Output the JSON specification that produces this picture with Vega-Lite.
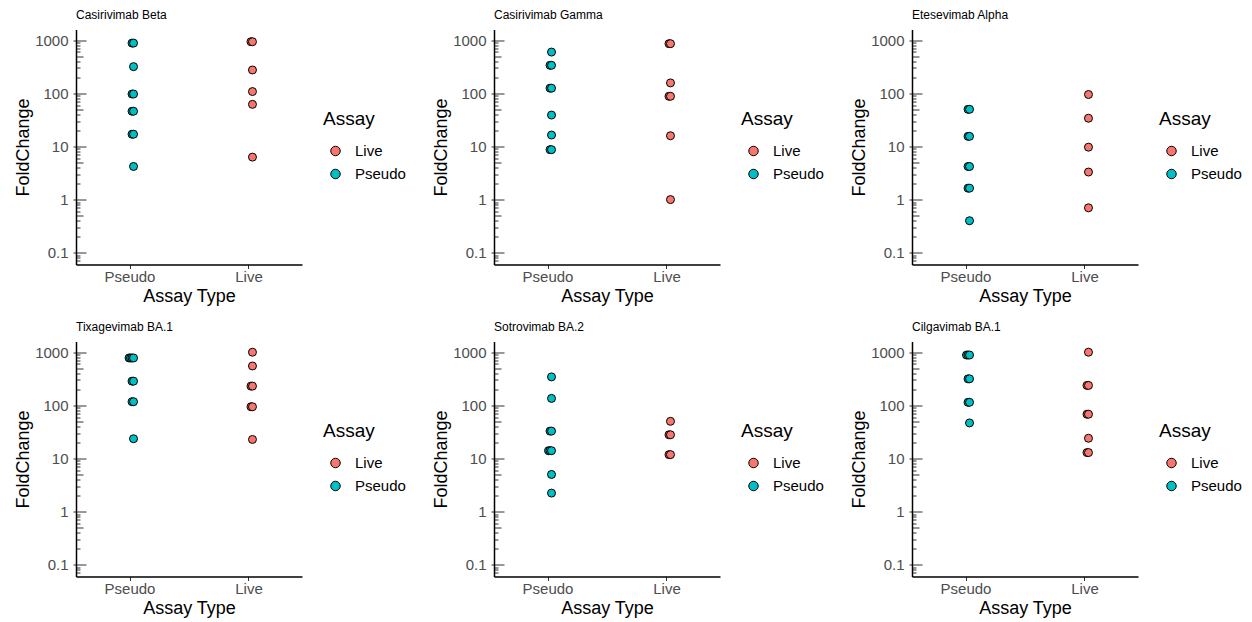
{
  "$schema": "https://vega.github.io/schema/vega-lite/v6.json",
  "background": "white",
  "padding": {"left": 14, "top": 8.5, "right": 5, "bottom": 5},
  "data": {"values": [
    {"panel": "Casirivimab Beta", "Assay": "Pseudo", "FoldChange": 882, "rep": 1},
    {"panel": "Casirivimab Beta", "Assay": "Pseudo", "FoldChange": 882, "rep": 0},
    {"panel": "Casirivimab Beta", "Assay": "Pseudo", "FoldChange": 318, "rep": 0},
    {"panel": "Casirivimab Beta", "Assay": "Pseudo", "FoldChange": 97, "rep": 1},
    {"panel": "Casirivimab Beta", "Assay": "Pseudo", "FoldChange": 97, "rep": 0},
    {"panel": "Casirivimab Beta", "Assay": "Pseudo", "FoldChange": 46, "rep": 1},
    {"panel": "Casirivimab Beta", "Assay": "Pseudo", "FoldChange": 46, "rep": 0},
    {"panel": "Casirivimab Beta", "Assay": "Pseudo", "FoldChange": 17, "rep": 1},
    {"panel": "Casirivimab Beta", "Assay": "Pseudo", "FoldChange": 17, "rep": 0},
    {"panel": "Casirivimab Beta", "Assay": "Pseudo", "FoldChange": 4.2, "rep": 0},
    {"panel": "Casirivimab Beta", "Assay": "Live", "FoldChange": 936, "rep": 1},
    {"panel": "Casirivimab Beta", "Assay": "Live", "FoldChange": 936, "rep": 0},
    {"panel": "Casirivimab Beta", "Assay": "Live", "FoldChange": 275, "rep": 0},
    {"panel": "Casirivimab Beta", "Assay": "Live", "FoldChange": 108, "rep": 0},
    {"panel": "Casirivimab Beta", "Assay": "Live", "FoldChange": 62, "rep": 0},
    {"panel": "Casirivimab Beta", "Assay": "Live", "FoldChange": 6.3, "rep": 0},

    {"panel": "Casirivimab Gamma", "Assay": "Pseudo", "FoldChange": 598, "rep": 0},
    {"panel": "Casirivimab Gamma", "Assay": "Pseudo", "FoldChange": 337, "rep": 1},
    {"panel": "Casirivimab Gamma", "Assay": "Pseudo", "FoldChange": 337, "rep": 0},
    {"panel": "Casirivimab Gamma", "Assay": "Pseudo", "FoldChange": 125, "rep": 1},
    {"panel": "Casirivimab Gamma", "Assay": "Pseudo", "FoldChange": 125, "rep": 0},
    {"panel": "Casirivimab Gamma", "Assay": "Pseudo", "FoldChange": 39, "rep": 0},
    {"panel": "Casirivimab Gamma", "Assay": "Pseudo", "FoldChange": 16.4, "rep": 0},
    {"panel": "Casirivimab Gamma", "Assay": "Pseudo", "FoldChange": 8.7, "rep": 1},
    {"panel": "Casirivimab Gamma", "Assay": "Pseudo", "FoldChange": 8.7, "rep": 0},
    {"panel": "Casirivimab Gamma", "Assay": "Live", "FoldChange": 860, "rep": 1},
    {"panel": "Casirivimab Gamma", "Assay": "Live", "FoldChange": 860, "rep": 0},
    {"panel": "Casirivimab Gamma", "Assay": "Live", "FoldChange": 157, "rep": 0},
    {"panel": "Casirivimab Gamma", "Assay": "Live", "FoldChange": 88, "rep": 1},
    {"panel": "Casirivimab Gamma", "Assay": "Live", "FoldChange": 88, "rep": 0},
    {"panel": "Casirivimab Gamma", "Assay": "Live", "FoldChange": 15.9, "rep": 0},
    {"panel": "Casirivimab Gamma", "Assay": "Live", "FoldChange": 1.0, "rep": 0},

    {"panel": "Etesevimab Alpha", "Assay": "Pseudo", "FoldChange": 50, "rep": 1},
    {"panel": "Etesevimab Alpha", "Assay": "Pseudo", "FoldChange": 50, "rep": 0},
    {"panel": "Etesevimab Alpha", "Assay": "Pseudo", "FoldChange": 15.5, "rep": 1},
    {"panel": "Etesevimab Alpha", "Assay": "Pseudo", "FoldChange": 15.5, "rep": 0},
    {"panel": "Etesevimab Alpha", "Assay": "Pseudo", "FoldChange": 4.2, "rep": 1},
    {"panel": "Etesevimab Alpha", "Assay": "Pseudo", "FoldChange": 4.2, "rep": 0},
    {"panel": "Etesevimab Alpha", "Assay": "Pseudo", "FoldChange": 1.64, "rep": 1},
    {"panel": "Etesevimab Alpha", "Assay": "Pseudo", "FoldChange": 1.64, "rep": 0},
    {"panel": "Etesevimab Alpha", "Assay": "Pseudo", "FoldChange": 0.4, "rep": 0},
    {"panel": "Etesevimab Alpha", "Assay": "Live", "FoldChange": 95, "rep": 0},
    {"panel": "Etesevimab Alpha", "Assay": "Live", "FoldChange": 34, "rep": 0},
    {"panel": "Etesevimab Alpha", "Assay": "Live", "FoldChange": 9.7, "rep": 0},
    {"panel": "Etesevimab Alpha", "Assay": "Live", "FoldChange": 3.3, "rep": 0},
    {"panel": "Etesevimab Alpha", "Assay": "Live", "FoldChange": 0.7, "rep": 0},

    {"panel": "Tixagevimab BA.1", "Assay": "Pseudo", "FoldChange": 779, "rep": 3},
    {"panel": "Tixagevimab BA.1", "Assay": "Pseudo", "FoldChange": 779, "rep": 2},
    {"panel": "Tixagevimab BA.1", "Assay": "Pseudo", "FoldChange": 779, "rep": 1},
    {"panel": "Tixagevimab BA.1", "Assay": "Pseudo", "FoldChange": 779, "rep": 0},
    {"panel": "Tixagevimab BA.1", "Assay": "Pseudo", "FoldChange": 285, "rep": 1},
    {"panel": "Tixagevimab BA.1", "Assay": "Pseudo", "FoldChange": 285, "rep": 0},
    {"panel": "Tixagevimab BA.1", "Assay": "Pseudo", "FoldChange": 117, "rep": 1},
    {"panel": "Tixagevimab BA.1", "Assay": "Pseudo", "FoldChange": 117, "rep": 0},
    {"panel": "Tixagevimab BA.1", "Assay": "Pseudo", "FoldChange": 23.5, "rep": 0},
    {"panel": "Tixagevimab BA.1", "Assay": "Live", "FoldChange": 1000, "rep": 0},
    {"panel": "Tixagevimab BA.1", "Assay": "Live", "FoldChange": 550, "rep": 0},
    {"panel": "Tixagevimab BA.1", "Assay": "Live", "FoldChange": 230, "rep": 1},
    {"panel": "Tixagevimab BA.1", "Assay": "Live", "FoldChange": 230, "rep": 0},
    {"panel": "Tixagevimab BA.1", "Assay": "Live", "FoldChange": 94, "rep": 1},
    {"panel": "Tixagevimab BA.1", "Assay": "Live", "FoldChange": 94, "rep": 0},
    {"panel": "Tixagevimab BA.1", "Assay": "Live", "FoldChange": 22.8, "rep": 0},

    {"panel": "Sotrovimab BA.2", "Assay": "Pseudo", "FoldChange": 343, "rep": 0},
    {"panel": "Sotrovimab BA.2", "Assay": "Pseudo", "FoldChange": 135, "rep": 0},
    {"panel": "Sotrovimab BA.2", "Assay": "Pseudo", "FoldChange": 32.7, "rep": 1},
    {"panel": "Sotrovimab BA.2", "Assay": "Pseudo", "FoldChange": 32.7, "rep": 0},
    {"panel": "Sotrovimab BA.2", "Assay": "Pseudo", "FoldChange": 14, "rep": 2},
    {"panel": "Sotrovimab BA.2", "Assay": "Pseudo", "FoldChange": 14, "rep": 1},
    {"panel": "Sotrovimab BA.2", "Assay": "Pseudo", "FoldChange": 14, "rep": 0},
    {"panel": "Sotrovimab BA.2", "Assay": "Pseudo", "FoldChange": 5.0, "rep": 0},
    {"panel": "Sotrovimab BA.2", "Assay": "Pseudo", "FoldChange": 2.23, "rep": 0},
    {"panel": "Sotrovimab BA.2", "Assay": "Live", "FoldChange": 50, "rep": 0},
    {"panel": "Sotrovimab BA.2", "Assay": "Live", "FoldChange": 27.9, "rep": 1},
    {"panel": "Sotrovimab BA.2", "Assay": "Live", "FoldChange": 27.9, "rep": 0},
    {"panel": "Sotrovimab BA.2", "Assay": "Live", "FoldChange": 11.8, "rep": 1},
    {"panel": "Sotrovimab BA.2", "Assay": "Live", "FoldChange": 11.8, "rep": 0},

    {"panel": "Cilgavimab BA.1", "Assay": "Pseudo", "FoldChange": 885, "rep": 2},
    {"panel": "Cilgavimab BA.1", "Assay": "Pseudo", "FoldChange": 885, "rep": 1},
    {"panel": "Cilgavimab BA.1", "Assay": "Pseudo", "FoldChange": 885, "rep": 0},
    {"panel": "Cilgavimab BA.1", "Assay": "Pseudo", "FoldChange": 315, "rep": 1},
    {"panel": "Cilgavimab BA.1", "Assay": "Pseudo", "FoldChange": 315, "rep": 0},
    {"panel": "Cilgavimab BA.1", "Assay": "Pseudo", "FoldChange": 114, "rep": 1},
    {"panel": "Cilgavimab BA.1", "Assay": "Pseudo", "FoldChange": 114, "rep": 0},
    {"panel": "Cilgavimab BA.1", "Assay": "Pseudo", "FoldChange": 46.6, "rep": 0},
    {"panel": "Cilgavimab BA.1", "Assay": "Live", "FoldChange": 1000, "rep": 0},
    {"panel": "Cilgavimab BA.1", "Assay": "Live", "FoldChange": 237, "rep": 1},
    {"panel": "Cilgavimab BA.1", "Assay": "Live", "FoldChange": 237, "rep": 0},
    {"panel": "Cilgavimab BA.1", "Assay": "Live", "FoldChange": 68, "rep": 1},
    {"panel": "Cilgavimab BA.1", "Assay": "Live", "FoldChange": 68, "rep": 0},
    {"panel": "Cilgavimab BA.1", "Assay": "Live", "FoldChange": 24, "rep": 0},
    {"panel": "Cilgavimab BA.1", "Assay": "Live", "FoldChange": 12.9, "rep": 1},
    {"panel": "Cilgavimab BA.1", "Assay": "Live", "FoldChange": 12.9, "rep": 0}
  ]},
  "columns": 3,
  "spacing": {"row": 77, "column": 192},
  "bounds": "flush",
  "resolve": {"legend": {"color": "independent"}, "scale": {"color": "independent"}},
  "concat": [
    {"title": "Casirivimab Beta", "width": 226, "height": 235,
     "transform": [{"filter": "datum.panel == 'Casirivimab Beta'"}],
     "mark": {"type": "point", "filled": true, "size": 64, "stroke": "black", "strokeWidth": 1, "opacity": 1},
     "encoding": {
       "x": {"field": "Assay", "type": "nominal", "title": "Assay Type", "scale": {"type": "point", "domain": ["Pseudo", "Live"], "padding": 0.45}},
       "xOffset": {"field": "rep", "type": "quantitative", "scale": {"domain": [0, 3], "range": [4, -0.5]}},
       "y": {"field": "FoldChange", "type": "quantitative", "title": "FoldChange", "scale": {"type": "log", "domain": [0.06, 1590], "nice": false},
             "axis": {"values": [0.07,0.08,0.09,0.1,0.2,0.3,0.4,0.5,0.6,0.7,0.8,0.9,1,2,3,4,5,6,7,8,9,10,20,30,40,50,60,70,80,90,100,200,300,400,500,600,700,800,900,1000],
                      "labelExpr": "(datum.value == 0.1 || datum.value == 1 || datum.value == 10 || datum.value == 100 || datum.value == 1000) ? format(datum.value, '~g') : ''",
                      "grid": true,
                      "gridDash": {"condition": [{"test": "datum.value == 0.1 || datum.value == 1 || datum.value == 10 || datum.value == 100 || datum.value == 1000", "value": [10, 1000]}, {"test": "datum.value == 0.5 || datum.value == 5 || datum.value == 50 || datum.value == 500", "value": [7, 1000]}], "value": [4, 1000]},
                      "tickSize": {"condition": {"test": "datum.value == 0.1 || datum.value == 1 || datum.value == 10 || datum.value == 100 || datum.value == 1000", "value": 3}, "value": 0}}},
       "color": {"field": "Assay", "type": "nominal", "scale": {"domain": ["Live", "Pseudo"], "range": ["#F8766D", "#00BFC4"]},
                 "legend": {"title": "Assay", "orient": "none", "legendX": 247, "legendY": 80}},
       "order": {"field": "rep", "sort": "descending"}
     }},
    {"title": "Casirivimab Gamma", "width": 226, "height": 235,
     "transform": [{"filter": "datum.panel == 'Casirivimab Gamma'"}],
     "mark": {"type": "point", "filled": true, "size": 64, "stroke": "black", "strokeWidth": 1, "opacity": 1},
     "encoding": {
       "x": {"field": "Assay", "type": "nominal", "title": "Assay Type", "scale": {"type": "point", "domain": ["Pseudo", "Live"], "padding": 0.45}},
       "xOffset": {"field": "rep", "type": "quantitative", "scale": {"domain": [0, 3], "range": [4, -0.5]}},
       "y": {"field": "FoldChange", "type": "quantitative", "title": "FoldChange", "scale": {"type": "log", "domain": [0.06, 1590], "nice": false},
             "axis": {"values": [0.07,0.08,0.09,0.1,0.2,0.3,0.4,0.5,0.6,0.7,0.8,0.9,1,2,3,4,5,6,7,8,9,10,20,30,40,50,60,70,80,90,100,200,300,400,500,600,700,800,900,1000],
                      "labelExpr": "(datum.value == 0.1 || datum.value == 1 || datum.value == 10 || datum.value == 100 || datum.value == 1000) ? format(datum.value, '~g') : ''",
                      "grid": true,
                      "gridDash": {"condition": [{"test": "datum.value == 0.1 || datum.value == 1 || datum.value == 10 || datum.value == 100 || datum.value == 1000", "value": [10, 1000]}, {"test": "datum.value == 0.5 || datum.value == 5 || datum.value == 50 || datum.value == 500", "value": [7, 1000]}], "value": [4, 1000]},
                      "tickSize": {"condition": {"test": "datum.value == 0.1 || datum.value == 1 || datum.value == 10 || datum.value == 100 || datum.value == 1000", "value": 3}, "value": 0}}},
       "color": {"field": "Assay", "type": "nominal", "scale": {"domain": ["Live", "Pseudo"], "range": ["#F8766D", "#00BFC4"]},
                 "legend": {"title": "Assay", "orient": "none", "legendX": 247, "legendY": 80}},
       "order": {"field": "rep", "sort": "descending"}
     }},
    {"title": "Etesevimab Alpha", "width": 226, "height": 235,
     "transform": [{"filter": "datum.panel == 'Etesevimab Alpha'"}],
     "mark": {"type": "point", "filled": true, "size": 64, "stroke": "black", "strokeWidth": 1, "opacity": 1},
     "encoding": {
       "x": {"field": "Assay", "type": "nominal", "title": "Assay Type", "scale": {"type": "point", "domain": ["Pseudo", "Live"], "padding": 0.45}},
       "xOffset": {"field": "rep", "type": "quantitative", "scale": {"domain": [0, 3], "range": [4, -0.5]}},
       "y": {"field": "FoldChange", "type": "quantitative", "title": "FoldChange", "scale": {"type": "log", "domain": [0.06, 1590], "nice": false},
             "axis": {"values": [0.07,0.08,0.09,0.1,0.2,0.3,0.4,0.5,0.6,0.7,0.8,0.9,1,2,3,4,5,6,7,8,9,10,20,30,40,50,60,70,80,90,100,200,300,400,500,600,700,800,900,1000],
                      "labelExpr": "(datum.value == 0.1 || datum.value == 1 || datum.value == 10 || datum.value == 100 || datum.value == 1000) ? format(datum.value, '~g') : ''",
                      "grid": true,
                      "gridDash": {"condition": [{"test": "datum.value == 0.1 || datum.value == 1 || datum.value == 10 || datum.value == 100 || datum.value == 1000", "value": [10, 1000]}, {"test": "datum.value == 0.5 || datum.value == 5 || datum.value == 50 || datum.value == 500", "value": [7, 1000]}], "value": [4, 1000]},
                      "tickSize": {"condition": {"test": "datum.value == 0.1 || datum.value == 1 || datum.value == 10 || datum.value == 100 || datum.value == 1000", "value": 3}, "value": 0}}},
       "color": {"field": "Assay", "type": "nominal", "scale": {"domain": ["Live", "Pseudo"], "range": ["#F8766D", "#00BFC4"]},
                 "legend": {"title": "Assay", "orient": "none", "legendX": 247, "legendY": 80}},
       "order": {"field": "rep", "sort": "descending"}
     }},
    {"title": "Tixagevimab BA.1", "width": 226, "height": 235,
     "transform": [{"filter": "datum.panel == 'Tixagevimab BA.1'"}],
     "mark": {"type": "point", "filled": true, "size": 64, "stroke": "black", "strokeWidth": 1, "opacity": 1},
     "encoding": {
       "x": {"field": "Assay", "type": "nominal", "title": "Assay Type", "scale": {"type": "point", "domain": ["Pseudo", "Live"], "padding": 0.45}},
       "xOffset": {"field": "rep", "type": "quantitative", "scale": {"domain": [0, 3], "range": [4, -0.5]}},
       "y": {"field": "FoldChange", "type": "quantitative", "title": "FoldChange", "scale": {"type": "log", "domain": [0.06, 1590], "nice": false},
             "axis": {"values": [0.07,0.08,0.09,0.1,0.2,0.3,0.4,0.5,0.6,0.7,0.8,0.9,1,2,3,4,5,6,7,8,9,10,20,30,40,50,60,70,80,90,100,200,300,400,500,600,700,800,900,1000],
                      "labelExpr": "(datum.value == 0.1 || datum.value == 1 || datum.value == 10 || datum.value == 100 || datum.value == 1000) ? format(datum.value, '~g') : ''",
                      "grid": true,
                      "gridDash": {"condition": [{"test": "datum.value == 0.1 || datum.value == 1 || datum.value == 10 || datum.value == 100 || datum.value == 1000", "value": [10, 1000]}, {"test": "datum.value == 0.5 || datum.value == 5 || datum.value == 50 || datum.value == 500", "value": [7, 1000]}], "value": [4, 1000]},
                      "tickSize": {"condition": {"test": "datum.value == 0.1 || datum.value == 1 || datum.value == 10 || datum.value == 100 || datum.value == 1000", "value": 3}, "value": 0}}},
       "color": {"field": "Assay", "type": "nominal", "scale": {"domain": ["Live", "Pseudo"], "range": ["#F8766D", "#00BFC4"]},
                 "legend": {"title": "Assay", "orient": "none", "legendX": 247, "legendY": 80}},
       "order": {"field": "rep", "sort": "descending"}
     }},
    {"title": "Sotrovimab BA.2", "width": 226, "height": 235,
     "transform": [{"filter": "datum.panel == 'Sotrovimab BA.2'"}],
     "mark": {"type": "point", "filled": true, "size": 64, "stroke": "black", "strokeWidth": 1, "opacity": 1},
     "encoding": {
       "x": {"field": "Assay", "type": "nominal", "title": "Assay Type", "scale": {"type": "point", "domain": ["Pseudo", "Live"], "padding": 0.45}},
       "xOffset": {"field": "rep", "type": "quantitative", "scale": {"domain": [0, 3], "range": [4, -0.5]}},
       "y": {"field": "FoldChange", "type": "quantitative", "title": "FoldChange", "scale": {"type": "log", "domain": [0.06, 1590], "nice": false},
             "axis": {"values": [0.07,0.08,0.09,0.1,0.2,0.3,0.4,0.5,0.6,0.7,0.8,0.9,1,2,3,4,5,6,7,8,9,10,20,30,40,50,60,70,80,90,100,200,300,400,500,600,700,800,900,1000],
                      "labelExpr": "(datum.value == 0.1 || datum.value == 1 || datum.value == 10 || datum.value == 100 || datum.value == 1000) ? format(datum.value, '~g') : ''",
                      "grid": true,
                      "gridDash": {"condition": [{"test": "datum.value == 0.1 || datum.value == 1 || datum.value == 10 || datum.value == 100 || datum.value == 1000", "value": [10, 1000]}, {"test": "datum.value == 0.5 || datum.value == 5 || datum.value == 50 || datum.value == 500", "value": [7, 1000]}], "value": [4, 1000]},
                      "tickSize": {"condition": {"test": "datum.value == 0.1 || datum.value == 1 || datum.value == 10 || datum.value == 100 || datum.value == 1000", "value": 3}, "value": 0}}},
       "color": {"field": "Assay", "type": "nominal", "scale": {"domain": ["Live", "Pseudo"], "range": ["#F8766D", "#00BFC4"]},
                 "legend": {"title": "Assay", "orient": "none", "legendX": 247, "legendY": 80}},
       "order": {"field": "rep", "sort": "descending"}
     }},
    {"title": "Cilgavimab BA.1", "width": 226, "height": 235,
     "transform": [{"filter": "datum.panel == 'Cilgavimab BA.1'"}],
     "mark": {"type": "point", "filled": true, "size": 64, "stroke": "black", "strokeWidth": 1, "opacity": 1},
     "encoding": {
       "x": {"field": "Assay", "type": "nominal", "title": "Assay Type", "scale": {"type": "point", "domain": ["Pseudo", "Live"], "padding": 0.45}},
       "xOffset": {"field": "rep", "type": "quantitative", "scale": {"domain": [0, 3], "range": [4, -0.5]}},
       "y": {"field": "FoldChange", "type": "quantitative", "title": "FoldChange", "scale": {"type": "log", "domain": [0.06, 1590], "nice": false},
             "axis": {"values": [0.07,0.08,0.09,0.1,0.2,0.3,0.4,0.5,0.6,0.7,0.8,0.9,1,2,3,4,5,6,7,8,9,10,20,30,40,50,60,70,80,90,100,200,300,400,500,600,700,800,900,1000],
                      "labelExpr": "(datum.value == 0.1 || datum.value == 1 || datum.value == 10 || datum.value == 100 || datum.value == 1000) ? format(datum.value, '~g') : ''",
                      "grid": true,
                      "gridDash": {"condition": [{"test": "datum.value == 0.1 || datum.value == 1 || datum.value == 10 || datum.value == 100 || datum.value == 1000", "value": [10, 1000]}, {"test": "datum.value == 0.5 || datum.value == 5 || datum.value == 50 || datum.value == 500", "value": [7, 1000]}], "value": [4, 1000]},
                      "tickSize": {"condition": {"test": "datum.value == 0.1 || datum.value == 1 || datum.value == 10 || datum.value == 100 || datum.value == 1000", "value": 3}, "value": 0}}},
       "color": {"field": "Assay", "type": "nominal", "scale": {"domain": ["Live", "Pseudo"], "range": ["#F8766D", "#00BFC4"]},
                 "legend": {"title": "Assay", "orient": "none", "legendX": 247, "legendY": 80}},
       "order": {"field": "rep", "sort": "descending"}
     }}
  ],
  "config": {
    "font": "Liberation Sans",
    "view": {"stroke": null},
    "axis": {"grid": false, "domainColor": "black", "domainWidth": 1.5, "tickColor": "#333333", "tickWidth": 1,
             "gridColor": "#333333", "gridWidth": 1, "gridOpacity": 1,
             "labelColor": "#4D4D4D", "labelFontSize": 15, "titleFontSize": 18, "titleFontWeight": "normal", "titleColor": "black", "labelOverlap": false},
    "axisX": {"tickSize": 4, "labelPadding": 1, "titlePadding": 3, "labelAngle": 0},
    "axisY": {"labelPadding": 5, "titlePadding": 2},
    "title": {"anchor": "start", "frame": "group", "fontSize": 12, "fontWeight": "normal", "color": "black", "offset": 8},
    "legend": {"titleFontSize": 19, "titleFontWeight": "normal", "titleColor": "black", "labelFontSize": 15, "labelColor": "black",
               "symbolSize": 90, "symbolType": "circle", "symbolStrokeColor": "black", "symbolStrokeWidth": 1,
               "symbolOffset": 5, "labelOffset": 12, "rowPadding": 7, "titlePadding": 15, "padding": 0}
  }
}
